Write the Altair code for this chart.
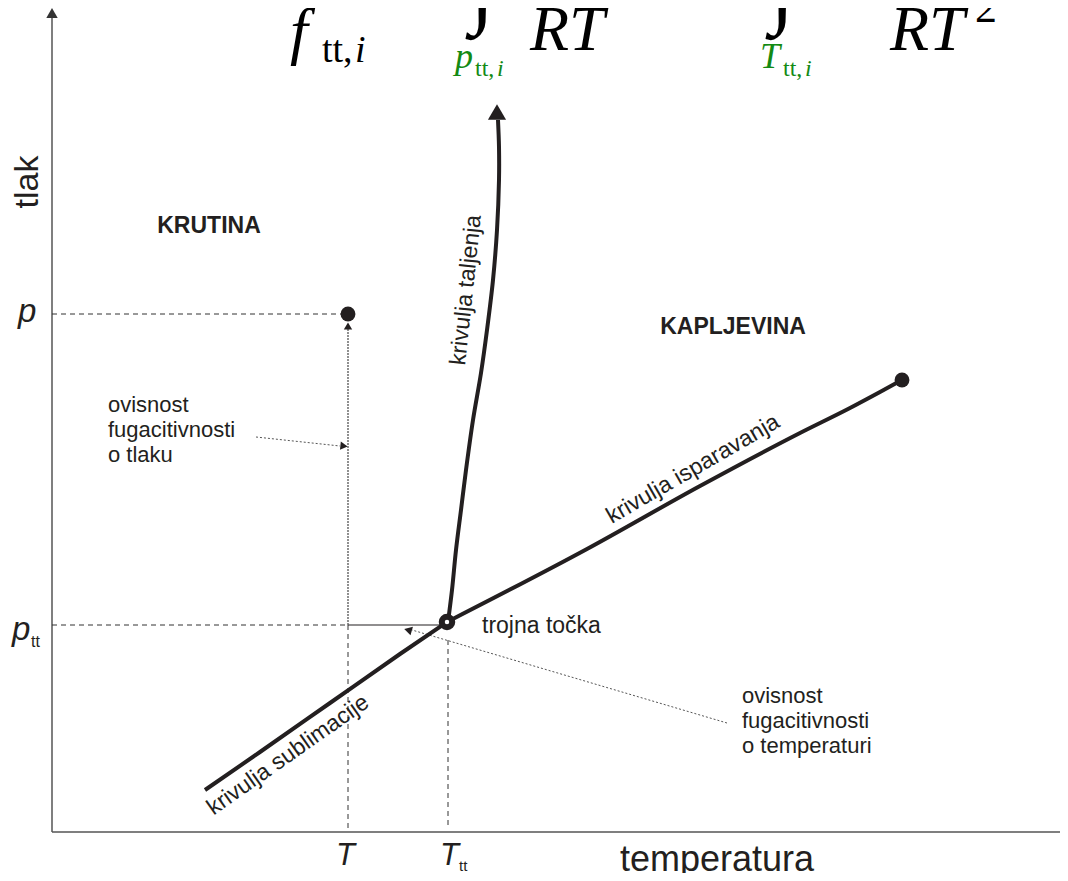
import altair as alt
import pandas as pd

DARK = "#231f20"
GREEN = "#138a13"

# ---------------- data (diagram units: T = temperatura, P = tlak) ----------------
sub_T = [153, 208, 278, 348, 395]
sub_P = [42, 80, 129, 178, 210]

melt_T = [396, 400, 404, 409, 414, 421, 429, 435, 441, 445, 447, 447, 446]
melt_P = [210, 242, 282, 322, 362, 412, 459, 502, 552, 602, 652, 685, 712]

vap_T = [395, 535, 648, 748, 798, 828, 850]
vap_P = [210, 283, 346, 399, 424, 440, 452]

dot_T = [296, 850]
dot_P = [518, 452]
triple_T = [395]
triple_P = [210]

# line segments: kind, T, T2, P, P2
seg_kind = ["axis", "axis", "dash", "dash", "dash", "dash", "thin", "dense", "annot", "annot"]
seg_T = [0, 0, 0, 0, 296, 396, 296, 296, 204, 675]
seg_T2 = [0, 1016, 290, 296, 296, 396, 390, 296, 288, 360]
seg_P = [0, 0, 518, 207, 207, 192, 207, 207, 395, 109]
seg_P2 = [818, 0, 518, 207, 4, 4, 207, 508, 386, 202]

# arrow heads
arr_T = [0, 445, 296, 292, 356]
arr_P = [819, 720, 506, 386, 202]
arr_shape = ["triangle-up", "triangle-up", "triangle-up", "triangle-right", "triangle-left"]
arr_size = [130, 330, 70, 70, 80]
arr_angle = [0, 0, 0, 6, 16]
arr_color = ["#333333", DARK, DARK, DARK, DARK]

# texts: group, label, T, P, font size, angle
txt_group = [
    "sans_c", "sans_c", "sans_c", "sans_c",
    "sans_b",
    "bold_c", "bold_c",
    "sans_l", "sans_l", "sans_l", "sans_l", "sans_l",
    "ital_l", "ital_l", "ital_l", "ital_l",
    "serif_i", "serif_i", "serif_i", "serif_i", "serif_i",
    "serif_u", "serif_u",
    "green_i", "green_i", "green_i", "green_i", "green_u", "green_u",
]
txt_label = [
    "tlak", "krivulja sublimacije", "krivulja isparavanja", "krivulja taljenja",
    "temperatura",
    "KRUTINA", "KAPLJEVINA",
    "ovisnost\nfugacitivnosti\no tlaku", "ovisnost\nfugacitivnosti\no temperaturi", "trojna točka", "tt", "tt",
    "p", "p", "T", "T",
    "f", "RT", "RT", "∫", "∫",
    "tt,", "2",
    "p", "T", "i", "i", "tt,", "tt,",
]
txt_T = [
    -24, 236, 641, 414,
    665,
    157, 681,
    56, 690, 430, -21, 407,
    -34, -40, 284, 388,
    238, 478, 838, 418, 718,
    270, 923,
    403, 708, 445, 753, 423, 731,
]
txt_P = [
    650, 77, 363, 542,
    -39,
    606, 505,
    420, 129, 199, 185, -39,
    510, 192, -33, -33,
    780, 782, 782, 816, 816,
    770, 810,
    764, 764, 756, 756, 756, 756,
]
txt_size = [
    34, 23, 23, 23,
    36,
    23, 23,
    22, 22, 23, 16, 15,
    33, 33, 31, 31,
    64, 64, 64, 90, 90,
    38, 44,
    36, 36, 24, 24, 24, 24,
]
txt_angle = [
    270, 325, 330, 276,
    0,
    0, 0,
    0, 0, 0, 0, 0,
    0, 0, 0, 0,
    0, 0, 0, 0, 0,
    0, 0,
    0, 0, 0, 0, 0, 0,
]
# extra italic subscript "i" after "tt," of f
fi_T = [303]
fi_P = [770]

# ---------------- tables ----------------
curves_smooth = pd.DataFrame(
    [{"curve": "sublimacija", "i": i, "T": t, "P": p} for i, (t, p) in enumerate(zip(sub_T, sub_P))]
    + [{"curve": "isparavanje", "i": i, "T": t, "P": p} for i, (t, p) in enumerate(zip(vap_T, vap_P))]
)
curves_melt = pd.DataFrame(
    [{"curve": "taljenje", "i": i, "T": t, "P": p} for i, (t, p) in enumerate(zip(melt_T, melt_P))]
)
segs = pd.DataFrame({"kind": seg_kind, "T": seg_T, "T2": seg_T2, "P": seg_P, "P2": seg_P2})
arrows = pd.DataFrame({"T": arr_T, "P": arr_P, "shape": arr_shape, "size": arr_size,
                       "ang": arr_angle, "col": arr_color})
texts = pd.DataFrame({"group": txt_group, "label": txt_label, "T": txt_T, "P": txt_P,
                      "fs": txt_size, "ang": txt_angle})

xs = alt.Scale(domain=[-44, 1008], nice=False, zero=False)
ys = alt.Scale(domain=[-41, 824], nice=False, zero=False)


def X(f="T"):
    return alt.X(f"{f}:Q", scale=xs, axis=None)


def Y(f="P"):
    return alt.Y(f"{f}:Q", scale=ys, axis=None)


layers = []

# guide segments
seg_styles = {
    "axis": dict(color="#555555", strokeWidth=1.5),
    "dash": dict(color="#333333", strokeWidth=1, strokeDash=[5, 4]),
    "thin": dict(color=DARK, strokeWidth=1.2),
    "dense": dict(color="#555555", strokeWidth=1.3, strokeDash=[2, 1]),
    "annot": dict(color="#555555", strokeWidth=1, strokeDash=[2, 2]),
}
for kind, style in seg_styles.items():
    layers.append(
        alt.Chart(segs[segs["kind"] == kind]).mark_rule(**style).encode(
            x=X("T"), x2="T2:Q", y=Y("P"), y2="P2:Q"
        )
    )

# phase boundary curves
layers.append(
    alt.Chart(curves_smooth).mark_line(color=DARK, strokeWidth=4, interpolate="monotone").encode(
        x=X(), y=Y(), detail="curve:N", order="i:Q"
    )
)
layers.append(
    alt.Chart(curves_melt).mark_line(color=DARK, strokeWidth=4, interpolate="catmull-rom").encode(
        x=X(), y=Y(), detail="curve:N", order="i:Q"
    )
)

# arrow heads
layers.append(
    alt.Chart(arrows).mark_point(filled=True, opacity=1).encode(
        x=X(), y=Y(),
        shape=alt.Shape("shape:N", scale=None),
        size=alt.Size("size:Q", scale=None),
        angle=alt.Angle("ang:Q", scale=None),
        color=alt.Color("col:N", scale=None),
    )
)

# filled points
dots = pd.DataFrame({"T": dot_T, "P": dot_P})
layers.append(
    alt.Chart(dots).mark_point(filled=True, shape="circle", size=220, color=DARK, opacity=1).encode(x=X(), y=Y())
)
triple = pd.DataFrame({"T": triple_T, "P": triple_P})
layers.append(
    alt.Chart(triple).mark_point(shape="circle", size=110, filled=False, fill="white", fillOpacity=1,
                                 stroke=DARK, strokeWidth=6, opacity=1).encode(x=X(), y=Y())
)

# texts
text_styles = {
    "sans_c": dict(font="Liberation Sans", align="center", baseline="middle", color=DARK),
    "sans_b": dict(font="Liberation Sans", align="center", baseline="alphabetic", color=DARK),
    "bold_c": dict(font="Liberation Sans", fontWeight="bold", align="center", baseline="middle", color=DARK),
    "sans_l": dict(font="Liberation Sans", align="left", baseline="alphabetic", color=DARK,
                   lineBreak="\n", lineHeight=25),
    "ital_l": dict(font="Liberation Sans", fontStyle="italic", align="left", baseline="alphabetic", color=DARK),
    "serif_i": dict(font="Liberation Serif", fontStyle="italic", align="left", baseline="alphabetic", color="black"),
    "serif_u": dict(font="Liberation Serif", align="left", baseline="alphabetic", color="black"),
    "green_i": dict(font="Liberation Serif", fontStyle="italic", align="left", baseline="alphabetic", color=GREEN),
    "green_u": dict(font="Liberation Serif", align="left", baseline="alphabetic", color=GREEN),
}
for grp, style in text_styles.items():
    layers.append(
        alt.Chart(texts[texts["group"] == grp]).mark_text(**style).encode(
            x=X(), y=Y(), text="label:N",
            size=alt.Size("fs:Q", scale=None),
            angle=alt.Angle("ang:Q", scale=None),
        )
    )
fi = pd.DataFrame({"T": fi_T, "P": fi_P, "label": ["i"]})
layers.append(
    alt.Chart(fi).mark_text(font="Liberation Serif", fontStyle="italic", align="left",
                            baseline="alphabetic", fontSize=38, color="black").encode(x=X(), y=Y(), text="label:N")
)

chart = alt.layer(*layers).properties(
    width=1052, height=865, padding=0,
    autosize=alt.AutoSizeParams(type="none"),
    background="white",
).configure_view(stroke=None)

chart.save("out.html", embed_options={"renderer": "svg", "actions": False})
